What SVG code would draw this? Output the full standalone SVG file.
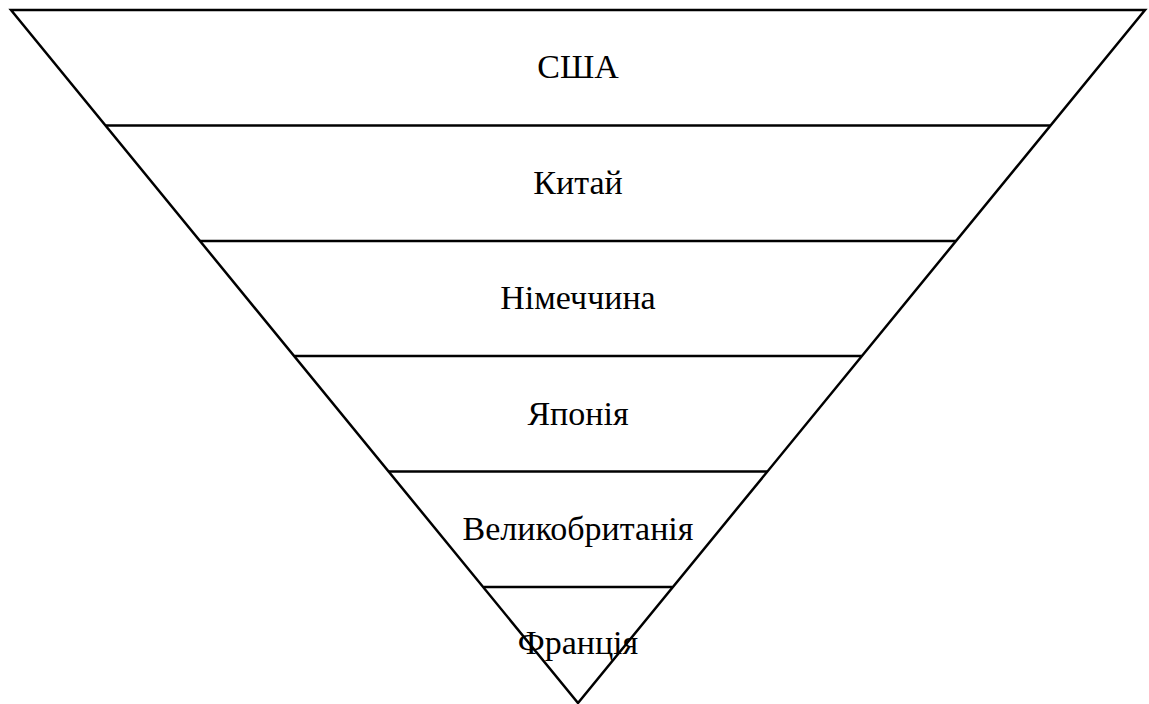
<svg xmlns="http://www.w3.org/2000/svg" width="1149" height="704" viewBox="0 0 1149 704">
<style>
.ln{stroke:#000;stroke-width:2.5;fill:none;stroke-linecap:butt}
text{font-family:'Liberation Serif','Times New Roman',serif;font-size:34px;fill:#000;text-anchor:middle}
</style>
<rect width="1149" height="704" fill="#fff"/>
<g id="connectors">
<polygon class="ln" points="11,10 1145,10 578,703"/>
<line class="ln" x1="105.5" y1="125.5" x2="1050.5" y2="125.5"/>
<line class="ln" x1="200" y1="241" x2="956" y2="241"/>
<line class="ln" x1="294.5" y1="356" x2="861.5" y2="356"/>
<line class="ln" x1="389" y1="471.5" x2="767" y2="471.5"/>
<line class="ln" x1="483.5" y1="587" x2="672.5" y2="587"/>
</g>
<g id="n1"><text x="578" y="78">США</text></g>
<g id="n2"><text x="578" y="194">Китай</text></g>
<g id="n3"><text x="578" y="309">Німеччина</text></g>
<g id="n4"><text x="578" y="425">Японія</text></g>
<g id="n5"><text x="578" y="540">Великобританія</text></g>
<g id="n6"><text x="578" y="654">Франція</text></g>
</svg>
